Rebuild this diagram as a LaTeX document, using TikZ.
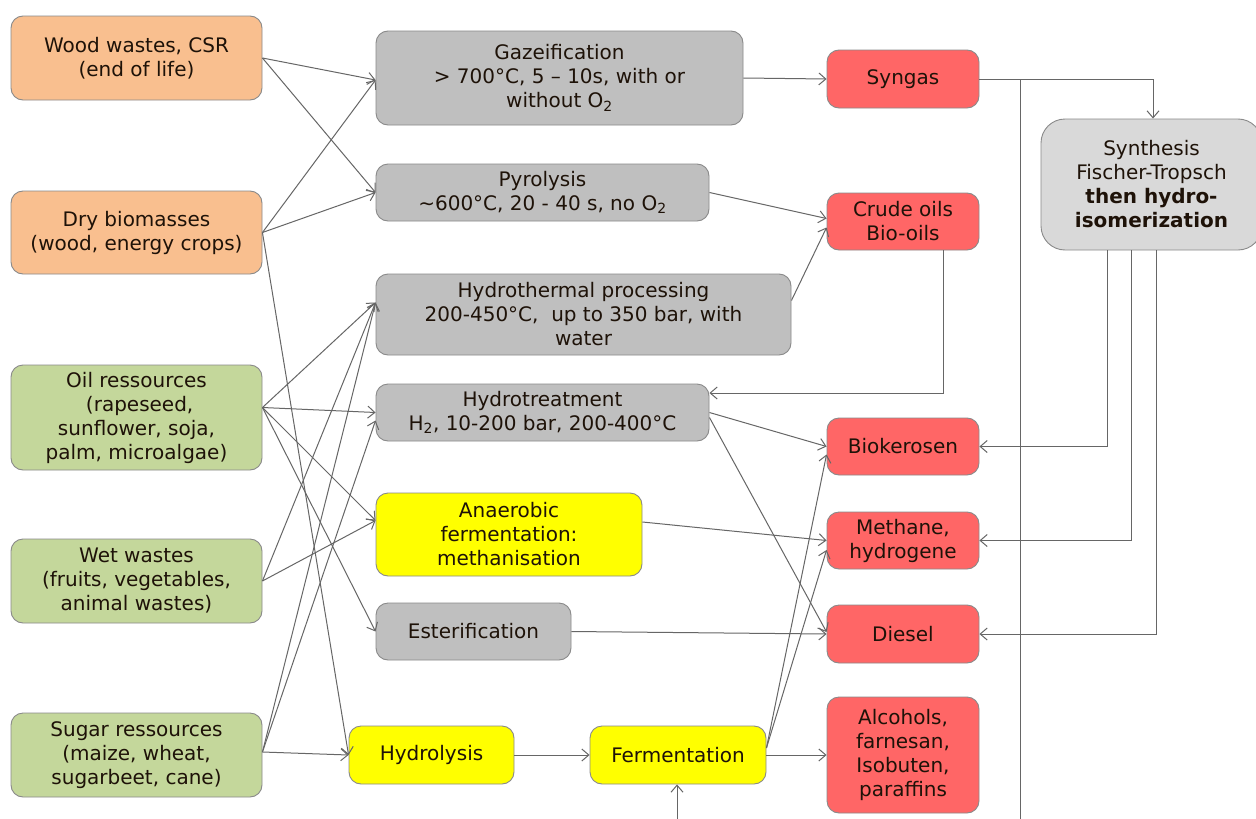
\documentclass[tikz,border=0pt]{standalone}
\usepackage{fontspec}
\setmainfont{DejaVu Sans}
\usetikzlibrary{arrows.meta,calc}
\definecolor{orng}{HTML}{F9BF8F}
\definecolor{grn}{HTML}{C4D79B}
\definecolor{gry}{HTML}{BFBFBF}
\definecolor{ylw}{HTML}{FFFF00}
\definecolor{rd}{HTML}{FF6666}
\definecolor{lgry}{HTML}{D9D9D9}
\definecolor{boxline}{HTML}{8A8A8A}
\definecolor{linecol}{HTML}{666666}
\definecolor{txt}{HTML}{1E1208}
\begin{document}
\begin{tikzpicture}[x=1pt,y=-1pt,
  font=\fontsize{20}{24}\selectfont,
  box/.style={draw=boxline, line width=0.9pt, rounded corners=12pt, align=center, inner sep=0pt, text=txt},
  arr/.style={draw=linecol, line width=1pt, -{Straight Barb[length=7pt,width=12pt,line width=1pt]}},
  plain/.style={draw=linecol, line width=1pt}]
\useasboundingbox[fill=white] (0,0) rectangle (1256,819);

% sources
\node[box, fill=orng, minimum width=251, minimum height=84] (wood) at (136.5,58) {Wood wastes, CSR\\(end of life)};
\node[box, fill=orng, minimum width=251, minimum height=83] (dry) at (136.5,232.5) {Dry biomasses\\(wood, energy crops)};
\node[box, fill=grn, minimum width=251, minimum height=105] (oil) at (136.5,417.5) {Oil ressources\\\ (rapeseed,\\sunflower, soja,\\palm, microalgae)};
\node[box, fill=grn, minimum width=251, minimum height=84] (wet) at (136.5,581) {Wet wastes\\(fruits, vegetables,\\animal wastes)};
\node[box, fill=grn, minimum width=251, minimum height=84] (sugar) at (136.5,755) {Sugar ressources\\(maize, wheat,\\sugarbeet, cane)};

% processes
\node[box, fill=gry, minimum width=367, minimum height=94] (gaz) at (559.5,78) {Gazeification\\> 700°C, 5 – 10s, with or\\without O\textsubscript{2}};
\node[box, fill=gry, minimum width=333, minimum height=57] (pyro) at (542.5,192.5) {Pyrolysis\\\textasciitilde600°C, 20 - 40 s, no O\textsubscript{2}};
\node[box, fill=gry, minimum width=415, minimum height=81] (hydroth) at (583.5,314.5) {Hydrothermal processing\\200-450°C,\ \ up to 350 bar, with\\water};
\node[box, fill=gry, minimum width=333, minimum height=57] (hydrot) at (542.5,412.5) {Hydrotreatment\\H\textsubscript{2}, 10-200 bar, 200-400°C};
\node[box, fill=ylw, minimum width=266, minimum height=83] (anaer) at (509,534.5) {Anaerobic\\fermentation:\\methanisation};
\node[box, fill=gry, minimum width=195, minimum height=57] (ester) at (473.5,631.5) {Esterification};
\node[box, fill=ylw, minimum width=165, minimum height=58] (hydrol) at (431.5,755) {Hydrolysis};
\node[box, fill=ylw, minimum width=176, minimum height=58] (ferm) at (678,755) {Fermentation};

% products
\node[box, fill=rd, minimum width=152, minimum height=58] (syngas) at (903,79) {Syngas};
\node[box, fill=rd, minimum width=152, minimum height=57] (crude) at (903,221.5) {Crude oils\\Bio-oils};
\node[box, fill=rd, minimum width=152, minimum height=57] (bioker) at (903,446.5) {Biokerosen};
\node[box, fill=rd, minimum width=152, minimum height=57] (meth) at (903,540.5) {Methane,\\hydrogene};
\node[box, fill=rd, minimum width=152, minimum height=58] (diesel) at (903,634) {Diesel};
\node[box, fill=rd, minimum width=152, minimum height=116] (alco) at (903,755) {Alcohols,\\farnesan,\\Isobuten,\\paraffins};

% Fischer-Tropsch
\node[box, fill=lgry, rounded corners=24pt, minimum width=221, minimum height=131] (ft) at (1151.5,184.5) {Synthesis\\Fischer-Tropsch\\\textbf{then hydro-}\\\textbf{isomerization}};

% coordinates for free ends
\coordinate (vbot) at (1020,819);
\coordinate (fbot) at (677,819);

% source connectors
\draw[arr] (wood.east) -- ([yshift=-2pt]gaz.west);
\draw[arr] (wood.east) -- (pyro.west);
\draw[arr] (dry.east) -- ([yshift=-2pt]gaz.west);
\draw[arr] (dry.east) -- (pyro.west);
\draw[arr] (dry.east) -- (hydrol.west);
\draw[arr] ([yshift=10pt]oil.east) -- ([yshift=12pt]hydroth.west);
\draw[arr] ([yshift=10pt]oil.east) -- (hydrot.west);
\draw[arr] ([yshift=10pt]oil.east) -- ([yshift=14pt]anaer.west);
\draw[arr] ([yshift=10pt]oil.east) -- (ester.west);
\draw[arr] (wet.east) -- ([yshift=12pt]hydroth.west);
\draw[arr] (wet.east) -- ([yshift=14pt]anaer.west);
\draw[arr] ([yshift=3pt]sugar.east) -- ([yshift=12pt]hydroth.west);
\draw[arr] ([yshift=3pt]sugar.east) -- ([yshift=-8pt]hydrot.west);
\draw[arr] ([yshift=3pt]sugar.east) -- (hydrol.west);

% process connectors
\draw[arr] (hydrol.east) -- (ferm.west);
\draw[arr] (ferm.east) -- (alco.west);
\draw[arr] ([yshift=7pt]ferm.east) -- ([yshift=-8pt]bioker.west);
\draw[arr] ([yshift=7pt]ferm.east) -- ([yshift=-9.5pt]meth.west);
\draw[arr] (gaz.east) -- (syngas.west);
\draw[arr] (pyro.east) -- ([yshift=3pt]crude.west);
\draw[arr] ([yshift=14pt]hydroth.east) -- ([yshift=-6pt]crude.west);
\draw[arr] ([xshift=40pt]crude.south) |- ([yshift=19.5pt]hydrot.east);
\draw[arr] (hydrot.east) -- (bioker.west);
\draw[arr] ([yshift=-5pt]hydrot.east) -- ([yshift=2pt]diesel.west);
\draw[arr] ([yshift=12.5pt]anaer.east) -- (meth.west);
\draw[arr] (ester.east) -- (diesel.west);

% Fischer-Tropsch connectors
\draw[arr] (syngas.east) -| ([xshift=1.5pt]ft.north);
\draw[plain] (vbot |- syngas.east) -- (vbot);
\draw[arr] ([xshift=-44.5pt]ft.south) |- (bioker.east);
\draw[arr] ([xshift=-20.5pt]ft.south) |- (meth.east);
\draw[arr] ([xshift=4.5pt]ft.south) |- (diesel.east);
\draw[arr] (fbot) -- (fbot |- ferm.south);
\end{tikzpicture}
\end{document}
